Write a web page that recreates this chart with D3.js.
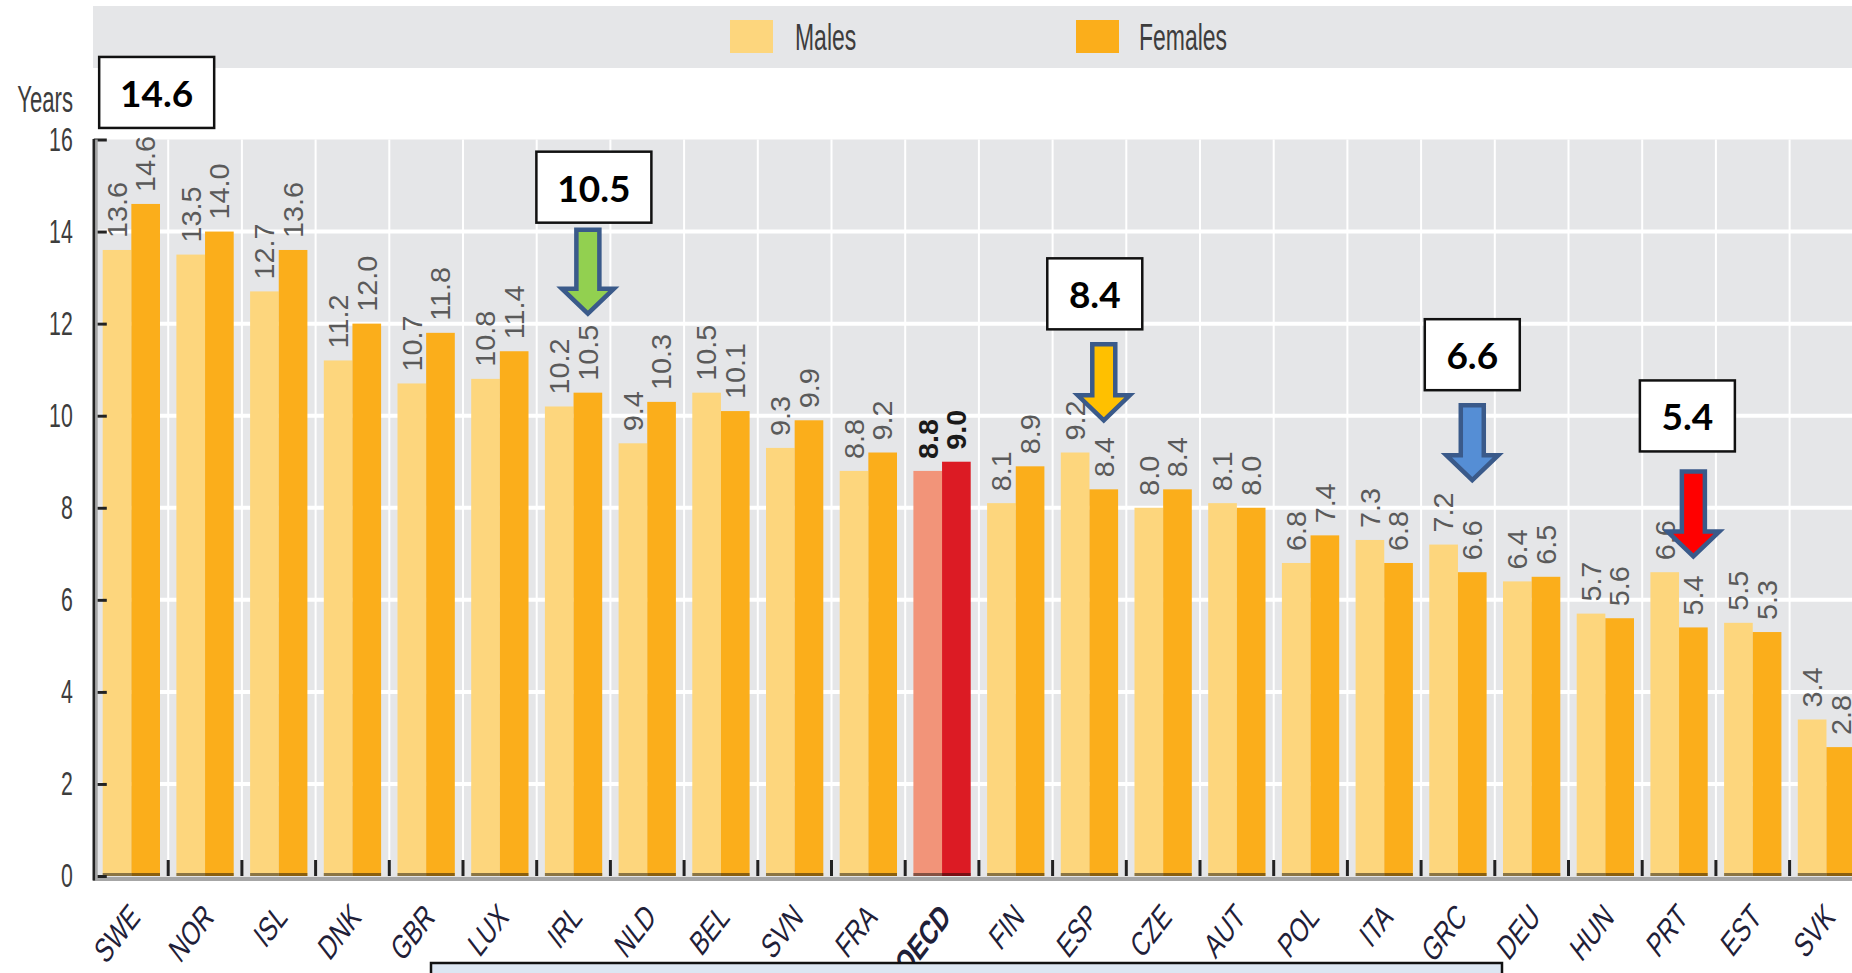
<!DOCTYPE html>
<html>
<head>
<meta charset="utf-8">
<script src="https://cdn.jsdelivr.net/npm/d3@7"></script>
<style>
  html, body { margin: 0; padding: 0; background: #fff; overflow: hidden; }
  svg { display: block; }
</style>
</head>
<body>
<div id="chart"></div>
<script>
// chart data
var countries = ["SWE", "NOR", "ISL", "DNK", "GBR", "LUX", "IRL", "NLD", "BEL", "SVN", "FRA", "OECD",
  "FIN", "ESP", "CZE", "AUT", "POL", "ITA", "GRC", "DEU", "HUN", "PRT", "EST", "SVK"];
var males = [13.6, 13.5, 12.7, 11.2, 10.7, 10.8, 10.2, 9.4, 10.5, 9.3, 8.8, 8.8,
  8.1, 9.2, 8.0, 8.1, 6.8, 7.3, 7.2, 6.4, 5.7, 6.6, 5.5, 3.4];
var females = [14.6, 14.0, 13.6, 12.0, 11.8, 11.4, 10.5, 10.3, 10.1, 9.9, 9.2, 9.0,
  8.9, 8.4, 8.4, 8.0, 7.4, 6.8, 6.6, 6.5, 5.6, 5.4, 5.3, 2.8];
var seriesNames = ["Males", "Females"];
var yTicks = [0, 2, 4, 6, 8, 10, 12, 14, 16];
var yLabel = "Years";
var highlight = "OECD";

// callouts: which bar they point to
var calloutBars = [
  { country: "SWE", series: "Females" },
  { country: "IRL", series: "Females" },
  { country: "ESP", series: "Females" },
  { country: "GRC", series: "Females" },
  { country: "PRT", series: "Females" }
];

(function () {
  var W = 1852, H = 973;
  var colors = { Males: "#fdd67d", Females: "#fbae1b" };
  var hiColors = { Males: "#f29479", Females: "#dc1b24" };
  var bg = "#e5e6e8";
  var narrow = 0.82;

  // layout of callouts (box offset, arrow style)
  var calloutStyle = [
    { dx: 11, boxGap: 76, arrow: null },
    { dx: 6, tipGap: 76, arrowLen: 89, boxGap: 5, arrow: "#92d050" },
    { dx: -9, tipGap: 66, arrowLen: 81, boxGap: 13, arrow: "#ffc000" },
    { dx: 0, tipGap: 89, arrowLen: 80, boxGap: 13, arrow: "#558ed5" },
    { dx: -6, tipGap: 68, arrowLen: 90, boxGap: 18, arrow: "#ff0000" }
  ];

  var rows = countries.map(function (c, i) {
    return { country: c, Males: males[i], Females: females[i] };
  });

  var left = 94.5, step = 73.7;
  var x0 = d3.scaleBand().domain(countries).range([left, left + step * countries.length]);
  var x1 = d3.scaleBand().domain(seriesNames).range([8.2, 65.5]);
  var y = d3.scaleLinear().domain([0, 16]).range([876, 139.5]);

  var svg = d3.select("#chart").append("svg").attr("width", W).attr("height", H);

  function tf(px, py, angle, sy) {
    return "translate(" + px + "," + py + ") scale(1," + sy + ") rotate(" + angle + ") scale(" + narrow + ",1)";
  }

  // legend band
  svg.append("rect").attr("x", 93).attr("y", 6).attr("width", W - 93).attr("height", 62).attr("fill", bg);
  var legendPos = [{ sx: 730, tx: 795 }, { sx: 1076, tx: 1139 }];
  seriesNames.forEach(function (s, i) {
    svg.append("rect").attr("x", legendPos[i].sx).attr("y", 20).attr("width", 43).attr("height", 33)
      .attr("fill", colors[s]);
    svg.append("text").attr("transform", tf(legendPos[i].tx, 50, 0, 1.32))
      .attr("font-family", "Liberation Sans, Arial, sans-serif").attr("font-size", 28)
      .attr("fill", "#3d3d3d").text(s);
  });

  // plot background
  svg.append("rect").attr("x", 95).attr("y", y(16)).attr("width", W - 95).attr("height", y(0) - y(16))
    .attr("fill", bg);

  // grid
  svg.append("g").selectAll("line").data(yTicks.filter(function (t) { return t > 0 && t < 16; }))
    .join("line")
    .attr("x1", 97).attr("x2", W).attr("y1", function (d) { return y(d); }).attr("y2", function (d) { return y(d); })
    .attr("stroke", "#fff").attr("stroke-width", 4);
  svg.append("g").selectAll("line").data(countries.slice(1))
    .join("line")
    .attr("x1", function (d) { return x0(d); }).attr("x2", function (d) { return x0(d); })
    .attr("y1", y(16)).attr("y2", y(0))
    .attr("stroke", "#fff").attr("stroke-width", 2);

  // bars
  var groups = svg.append("g").selectAll("g").data(rows).join("g")
    .attr("transform", function (d) { return "translate(" + x0(d.country) + ",0)"; });

  groups.selectAll("rect.bar")
    .data(function (d) {
      return seriesNames.map(function (s) { return { country: d.country, series: s, value: d[s] }; });
    })
    .join("rect").attr("class", "bar")
    .attr("x", function (d) { return x1(d.series); })
    .attr("width", x1.bandwidth())
    .attr("y", function (d) { return y(d.value); })
    .attr("height", function (d) { return y(0) - y(d.value); })
    .attr("fill", function (d) { return d.country === highlight ? hiColors[d.series] : colors[d.series]; });

  // darker foot of each bar
  groups.selectAll("rect.foot")
    .data(function (d) { return seriesNames.map(function (s) { return { country: d.country, series: s }; }); })
    .join("rect").attr("class", "foot")
    .attr("x", function (d) { return x1(d.series); })
    .attr("width", x1.bandwidth())
    .attr("y", y(0) - 3).attr("height", 3)
    .attr("fill", "#000").attr("opacity", 0.45);

  // value labels
  groups.selectAll("text.val")
    .data(function (d) {
      return seriesNames.map(function (s) { return { country: d.country, series: s, value: d[s] }; });
    })
    .join("text").attr("class", "val")
    .attr("transform", function (d) {
      return tf(x1(d.series) + x1.bandwidth() / 2 + 9.8, y(d.value) - 12, -90, 1.3);
    })
    .attr("font-family", "Liberation Sans, Arial, sans-serif")
    .attr("font-size", 27)
    .attr("font-weight", function (d) { return d.country === highlight ? "bold" : null; })
    .attr("fill", function (d) { return d.country === highlight ? "#1a1a1a" : "#5a5a5a"; })
    .text(function (d) { return d3.format(".1f")(d.value); });

  // x axis
  svg.append("rect").attr("x", 93).attr("y", y(0) + 0.7).attr("width", W - 93).attr("height", 4.3).attr("fill", "#a6a6a6");
  svg.append("g").selectAll("line").data(countries.slice(1))
    .join("line")
    .attr("x1", function (d) { return x0(d); }).attr("x2", function (d) { return x0(d); })
    .attr("y1", y(0) - 16).attr("y2", y(0))
    .attr("stroke", "#222").attr("stroke-width", 3);

  svg.append("g").selectAll("text").data(countries)
    .join("text")
    .attr("transform", function (d) { return tf(x0(d) + x0.bandwidth() / 2 + 10, 919, -45, 1.3); })
    .attr("text-anchor", "end")
    .attr("font-family", "Liberation Sans, Arial, sans-serif")
    .attr("font-size", 27)
    .attr("font-weight", function (d) { return d === highlight ? "bold" : null; })
    .attr("fill", "#1f2038")
    .text(function (d) { return d; });

  // y axis
  var yAxis = d3.axisLeft(y).tickValues(yTicks).tickSize(-13).tickPadding(0).tickFormat(d3.format("d"));
  var ga = svg.append("g").attr("transform", "translate(93.8,0)").call(yAxis);
  ga.select(".domain").remove();
  ga.selectAll(".tick line").attr("stroke", "#222").attr("stroke-width", 3);
  ga.selectAll(".tick text")
    .attr("x", 0)
    .attr("transform", "translate(-21,0) scale(" + narrow + ",1.28)")
    .attr("font-family", "Liberation Sans, Arial, sans-serif")
    .attr("font-size", 26).attr("fill", "#3d3d3d");
  svg.append("rect").attr("x", 95).attr("y", y(16)).attr("width", 2.7).attr("height", y(0) - y(16) + 5).attr("fill", "#a6a6a6");
  svg.append("rect").attr("x", 92.5).attr("y", y(16) - 0.5).attr("width", 2.6).attr("height", y(0) - y(16) + 5).attr("fill", "#222");

  svg.append("text").attr("transform", tf(73, 112, 0, 1.35))
    .attr("text-anchor", "end")
    .attr("font-family", "Liberation Sans, Arial, sans-serif").attr("font-size", 27)
    .attr("fill", "#3d3d3d").text(yLabel);

  // callouts
  var cg = svg.append("g");
  calloutBars.forEach(function (c, i) {
    var st = calloutStyle[i];
    var row = rows[countries.indexOf(c.country)];
    var v = row[c.series];
    var cx = x0(c.country) + x1(c.series) + x1.bandwidth() / 2;
    var top = y(v);
    var boxBottom;
    if (st.arrow) {
      var tip = top - st.tipGap;
      var aTop = tip - st.arrowLen;
      var headTop = tip - 28;
      var sw = 11.5, hw = 26;
      var pts = [[cx - sw, aTop + 2], [cx + sw, aTop + 2], [cx + sw, headTop], [cx + hw, headTop],
        [cx, tip - 3], [cx - hw, headTop], [cx - sw, headTop]];
      cg.append("path").attr("d", "M" + pts.join("L") + "Z")
        .attr("fill", st.arrow).attr("stroke", "#3a5a8a").attr("stroke-width", 4.5)
        .attr("stroke-linejoin", "miter");
      boxBottom = aTop - st.boxGap;
    } else {
      boxBottom = top - st.boxGap;
    }
    var label = d3.format(".1f")(v);
    var bw = label.length > 3 ? 115 : 95;
    var bx = cx + st.dx;
    cg.append("rect").attr("x", bx - bw / 2).attr("y", boxBottom - 71).attr("width", bw).attr("height", 71)
      .attr("fill", "#fff").attr("stroke", "#111").attr("stroke-width", 2.5);
    cg.append("text").attr("x", bx).attr("y", boxBottom - 21)
      .attr("text-anchor", "middle")
      .attr("font-family", "Lato, Carlito, sans-serif").attr("font-weight", "bold").attr("font-size", 37)
      .attr("fill", "#000").text(label);
  });

  // panel cut at the bottom
  svg.append("rect").attr("x", 431).attr("y", 963).attr("width", 1071).attr("height", 30)
    .attr("fill", "#dce6f2").attr("stroke", "#111").attr("stroke-width", 2.5);
})();
</script>
</body>
</html>
